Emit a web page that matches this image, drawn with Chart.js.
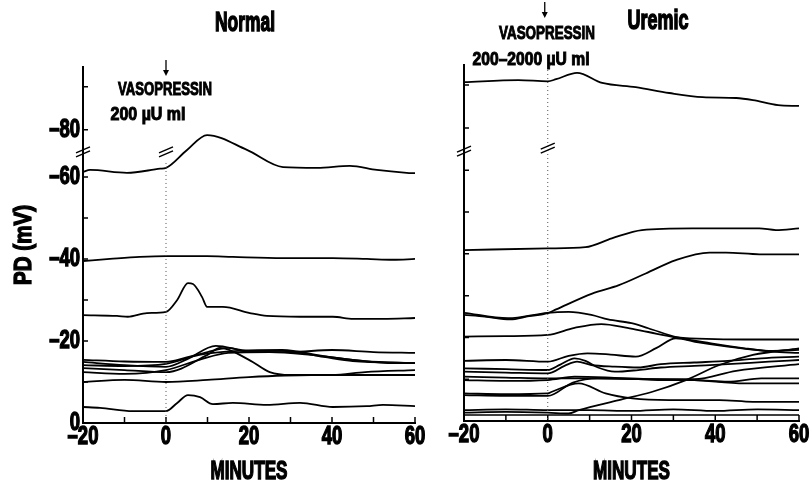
<!DOCTYPE html>
<html>
<head>
<meta charset="utf-8">
<script src="https://cdn.jsdelivr.net/npm/chart.js@4.4.1/dist/chart.umd.min.js"></script>
<style>
  body { margin: 0; background: #fff; width: 812px; height: 484px; overflow: hidden; }
  canvas { position: absolute; top: 0; }
  #normalChart { left: 0; }
  #uremicChart { left: 440px; }
</style>
</head>
<body>
<canvas id="normalChart" width="440" height="484"></canvas>
<canvas id="uremicChart" width="372" height="484"></canvas>
<script>
// PD (mV) against minutes, one array of [minute, mV] per tracing.
// Top tracings sit above the axis break, so their values are as plotted.
const normalA = [[-20,-61.2],[-18.3,-61.7],[-9.4,-61.0],[-1.4,-62.0],[0,-62.2],[5,-66.5],[9.9,-70.2],[19.5,-66.6],[28.2,-62.4],[36.4,-62.2],[44.3,-62.7],[50.8,-61.7],[58,-61.0],[60,-60.9]]
const normalB = [[-20,-39.5],[-13.5,-40],[-6.3,-40.5],[0,-40.7],[9.9,-40.7],[16.1,-40.5],[28.2,-40.2],[40.2,-40.2],[48.4,-40],[54.7,-39.8],[60,-40]]
const normalC = [[-20,-26.3],[-11.8,-26.1],[-9.2,-25.9],[-4.6,-26.8],[0,-27.1],[2.7,-30],[5.3,-34.1],[6.5,-33.9],[8.7,-30.7],[9.9,-28.3],[13.7,-28.3],[20.2,-26.8],[24.3,-26.1],[32.3,-25.9],[40.2,-25.9],[45.1,-25.4],[52.3,-25.4],[60,-25.6]]
const normalD = [[-20,-15.4],[-10,-15.0],[0,-14.9],[5,-16.0],[10,-17.3],[15,-18.3],[20,-17.3],[30,-17.3],[40,-17.8],[50,-17.3],[60,-17.1]]
const normalE = [[-20,-14.9],[-10,-14.1],[0,-13.7],[5,-15.5],[12,-18.8],[20,-17.6],[28,-17.6],[38,-16.1],[45,-15.1],[60,-14.6]]
const normalF = [[-20,-14.1],[-10,-13.9],[0,-14.4],[8,-16.6],[18,-17.6],[28,-17.8],[38,-16.3],[48,-15.1],[60,-14.6]]
const normalG = [[-20,-13.4],[-10,-12.9],[0,-12.4],[10,-16.6],[13,-18.3],[20,-15.4],[25,-12.4],[30,-11.7],[40,-11.7],[48,-12.4],[60,-12.9]]
const normalH = [[-20,-12.4],[-10,-12.0],[0,-12.9],[8,-15.4],[15,-17.1],[25,-17.3],[35,-16.6],[45,-15.4],[55,-14.6],[60,-14.6]]
const normalI = [[-20,-10.0],[-10,-10.5],[0,-10.0],[10,-10.5],[20,-11.2],[35,-11.7],[60,-11.7]]
const normalJ = [[-20,-3.9],[-15.9,-3.7],[-8,-2.9],[0,-2.9],[2.7,-4.9],[5.3,-6.8],[8.2,-6.3],[11.3,-4.6],[16.1,-4.9],[24.3,-4.4],[32.3,-4.9],[40.2,-3.9],[48.4,-4.1],[52.3,-4.4],[60,-4.1]]

const uremicA = [[-20,-81.1],[-7,-81.6],[0,-81.3],[2,-81.8],[7,-83.3],[13,-80.9],[21,-79.9],[29,-78.5],[37,-77.5],[45,-77.3],[49,-76.8],[55,-75.6],[60,-75.4]]
const uremicB = [[-20,-40.9],[0,-41.3],[9,-41.6],[15.3,-43.7],[22.5,-45.7],[34.5,-46.1],[50.5,-46.1],[54.5,-45.7],[60,-46.1]]
const uremicC = [[-20,-25.4],[-15,-25.0],[-9,-24.3],[-4.5,-25.1],[0,-25.8],[2,-26.7],[10.6,-30.5],[17,-32.5],[23.4,-35.3],[30.6,-38.5],[38.6,-40.3],[42.6,-40.3],[50.6,-39.9],[60,-39.9]]
const uremicD = [[-20,-25.9],[-9.5,-24.6],[0,-25.9],[5,-26.1],[10.4,-25.4],[14.4,-24.3],[20,-23.4],[24,-22.2],[31,-20.0],[39,-18.6],[47,-17.4],[53.6,-16.6],[60,-16.3]]
const uremicE = [[-20,-20.2],[-10,-20.3],[0,-20.6],[6.4,-22.3],[12.8,-23.2],[19,-22.3],[24,-21.3],[31,-20.0],[40,-19.6],[50,-19.5],[60,-19.5]]
const uremicF = [[-20,-14.4],[-10,-14.6],[0,-14.2],[5,-15.6],[9.5,-16.2],[15,-15.9],[21,-15.4],[26,-17.5],[30.6,-19.8],[36,-18.8],[43,-17.8],[52.8,-16.8],[60,-17.0]]
const uremicG = [[-20,-12.6],[-10,-12.4],[0,-12.2],[3,-13.5],[6.4,-15.0],[9,-14.4],[12,-12.8],[16,-11.8],[21.6,-12.2],[27,-12.8],[35,-13.2],[43,-13.6],[52.8,-14.2],[60,-14.6]]
const uremicH = [[-20,-11.8],[-10,-11.6],[0,-11.4],[4,-13.2],[7,-14.2],[10.4,-13.4],[16,-13.0],[21.6,-12.8],[27,-13.6],[35,-14.0],[43,-14.4],[51,-15.0],[60,-15.4]]
const uremicI = [[-20,-10.6],[-10,-10.4],[0,-10.2],[10.4,-10.2],[21.6,-10.0],[27,-9.8],[35,-9.8],[43,-9.4],[51,-10.2],[60,-10.2]]
const uremicJ = [[-20,-9.8],[-10,-9.6],[0,-9.8],[6.4,-10.6],[15,-10.4],[25,-10.0],[35,-9.8],[47,-9.0],[60,-9.0]]
const uremicK = [[-20,-6.6],[-10,-6.4],[0,-6.6],[1,-7.0],[7.4,-9.0],[13.8,-6.6],[20.2,-5.4],[29,-5.0],[41,-5.0],[49,-4.6],[60,-4.6]]
const uremicL = [[-20,-6.2],[-10,-6.0],[0,-6.0],[6,-9.2],[12,-10.2],[25,-10.0],[35,-10.0],[45,-12.0],[60,-13.6]]
const uremicM = [[-20,-2.6],[-10,-2.8],[0,-2.6],[10,-2.6],[20,-2.4],[30,-2.8],[40,-2.4],[50,-2.8],[60,-2.6]]
const uremicN = [[-20,-2.0],[-10,-2.2],[0,-2.0],[5,-1.8],[7.4,-2.6],[17,-5.0],[25,-7.0],[33,-9.8],[41,-13.4],[49,-15.8],[60,-17.4]]

const normalTraces = [normalA, normalB, normalC, normalD, normalE, normalF, normalG, normalH, normalI, normalJ]
const uremicTraces = [uremicA, uremicB, uremicC, uremicD, uremicE, uremicF, uremicG, uremicH, uremicI, uremicJ, uremicK, uremicL, uremicM, uremicN]

// y ticks: the last two stand for -80 and -90 above the break
const normalYTicks = [0, -10, -20, -30, -40, -50, -60, -71.5, -82]
const uremicYTicks = [0, -10, -20, -30, -40, -50, -60, -70.1, -80.4]
const yTickLabels = ['0', '', '–20', '', '–40', '', '–60', '–80', '']
const xTickValues = [-20, 0, 20, 40, 60]
const xTickLabels = ['–20', '0', '20', '40', '60']

const FONT = "'Liberation Sans', sans-serif"
Chart.defaults.font.family = FONT
Chart.defaults.font.weight = 'bold'
Chart.defaults.color = '#000'

// the original lettering is a heavy condensed face, so squeeze it sideways
function squeeze(ctx, text, x, y, size, o) {
    ctx.save()
    ctx.font = 'bold ' + size + 'px ' + FONT
    let sx = o.sx || (o.width / ctx.measureText(text).width)
    ctx.translate(x, y)
    if (o.rot) ctx.rotate(o.rot)
    ctx.scale(sx, 1)
    ctx.textAlign = o.align || 'center'
    ctx.textBaseline = 'middle'
    ctx.fillStyle = '#000'
    ctx.strokeStyle = '#000'
    ctx.lineWidth = size / 18
    ctx.fillText(text, 0, 0)
    ctx.strokeText(text, 0, 0)
    ctx.restore()
}

function breakMark(ctx, x, y) {
    ctx.save()
    ctx.strokeStyle = '#000'
    ctx.lineWidth = 1.5
    ctx.beginPath()
    ctx.moveTo(x - 7, y + 1); ctx.lineTo(x + 7, y - 5)
    ctx.moveTo(x - 7, y + 5); ctx.lineTo(x + 7, y - 1)
    ctx.stroke()
    ctx.restore()
}

function arrow(ctx, x, y1, y2) {
    ctx.save()
    ctx.strokeStyle = '#000'
    ctx.fillStyle = '#000'
    ctx.lineWidth = 1.3
    ctx.beginPath(); ctx.moveTo(x, y1); ctx.lineTo(x, y2 - 4); ctx.stroke()
    ctx.beginPath(); ctx.moveTo(x - 3, y2 - 6); ctx.lineTo(x + 3, y2 - 6); ctx.lineTo(x, y2); ctx.fill()
    ctx.restore()
}

function makePanel(id, traces, yTicks, cfg) {
    const decor = {
        id: 'decor',
        afterDraw(chart) {
            const ctx = chart.ctx
            const xs = chart.scales.x, ys = chart.scales.y
            const area = chart.chartArea
            ctx.save()
            ctx.strokeStyle = '#000'
            ctx.lineWidth = 1.5
            ctx.beginPath()
            yTicks.forEach(v => {
                if (v === 0) return
                let py = ys.getPixelForValue(v)
                ctx.moveTo(area.left, py); ctx.lineTo(area.left + 5, py)
            })
            for (let t = -10; t <= 60; t += 10) {
                let px = xs.getPixelForValue(t)
                ctx.moveTo(px, area.bottom); ctx.lineTo(px, area.bottom - 6)
            }
            if (cfg.doubleBar) {
                ctx.moveTo(area.left, area.bottom - 6); ctx.lineTo(area.right, area.bottom - 6)
            }
            ctx.stroke()
            // dotted line at vasopressin addition
            let x0 = xs.getPixelForValue(0)
            ctx.strokeStyle = '#555'
            ctx.lineWidth = 1
            ctx.setLineDash([1, 3])
            ctx.beginPath()
            ctx.moveTo(x0, ys.getPixelForValue(cfg.dotTop)); ctx.lineTo(x0, area.bottom)
            ctx.stroke()
            ctx.restore()

            breakMark(ctx, area.left, ys.getPixelForValue(cfg.axisBreak))
            breakMark(ctx, x0, ys.getPixelForValue(cfg.lineBreak))
            arrow(ctx, x0 + cfg.arrowDx, cfg.arrow[0], cfg.arrow[1])

            // tick labels and axis titles
            xTickValues.forEach((v, i) => {
                squeeze(ctx, xTickLabels[i], xs.getPixelForValue(v), area.bottom + 14, 25, {sx: 0.74})
            })
            if (cfg.yLabels) {
                yTicks.forEach((v, i) => {
                    if (yTickLabels[i]) squeeze(ctx, yTickLabels[i], area.left - 3, ys.getPixelForValue(v), 25, {sx: 0.74, align: 'right'})
                })
                squeeze(ctx, 'PD (mV)', 24, (area.top + area.bottom) / 2, 24, {width: 80, rot: -Math.PI / 2})
            }
            squeeze(ctx, 'MINUTES', (area.left + area.right) / 2, 472, 25, {width: 77})
            cfg.texts.forEach(t => squeeze(ctx, t[0], t[1], t[2], t[3], {width: t[4]}))
        }
    }

    return new Chart(document.getElementById(id), {
        type: 'line',
        data: {
            datasets: traces.map(tr => ({
                data: tr.map(p => ({x: p[0], y: p[1]})),
                borderColor: '#000',
                borderWidth: 1.8,
                pointRadius: 0,
                cubicInterpolationMode: 'monotone',
                fill: false
            }))
        },
        options: {
            responsive: false,
            animation: false,
            layout: {padding: {top: cfg.top, right: cfg.right, left: 0, bottom: 0}},
            plugins: {legend: {display: false}, tooltip: {enabled: false}},
            scales: {
                x: {
                    type: 'linear',
                    min: -20,
                    max: 60,
                    grid: {display: false, drawTicks: false},
                    border: {display: true, color: '#000', width: 2},
                    ticks: {display: false, stepSize: 20},
                    afterFit: s => { s.height = cfg.xHeight }
                },
                y: {
                    type: 'linear',
                    reverse: true,
                    min: cfg.yMin,
                    max: 0,
                    grid: {display: false, drawTicks: false},
                    border: {display: true, color: '#000', width: 2},
                    afterBuildTicks: s => { s.ticks = yTicks.map(v => ({value: v})) },
                    ticks: {display: false},
                    afterFit: s => { s.width = cfg.yWidth }
                }
            }
        },
        plugins: [decor]
    })
}

makePanel('normalChart', normalTraces, normalYTicks, {
    top: 67, right: 25, yWidth: 83, xHeight: 61, yMin: -86.8, yLabels: true,
    doubleBar: false, dotTop: -63.4, axisBreak: -66.1, lineBreak: -66.1,
    arrow: [60, 76], arrowDx: 0,
    texts: [['Normal', 245, 23, 28, 60], ['VASOPRESSIN', 165, 90, 18, 94], ['200 µU ml', 148, 115, 18, 75]]
})

makePanel('uremicChart', uremicTraces, uremicYTicks, {
    top: 65, right: 13, yWidth: 24, xHeight: 63, yMin: -85.2, yLabels: false,
    doubleBar: true, dotTop: -84, axisBreak: -64.6, lineBreak: -65.3,
    arrow: [2, 18], arrowDx: -3,
    texts: [['Uremic', 218, 21, 28, 61], ['VASOPRESSIN', 107, 34, 18, 96], ['200–2000 µU ml', 91, 60, 18, 117]]
})
</script>
</body>
</html>
